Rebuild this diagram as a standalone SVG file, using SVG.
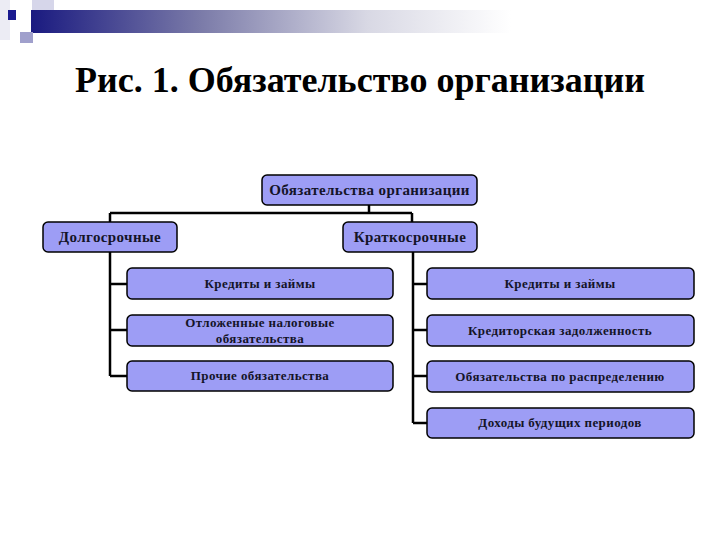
<svg xmlns="http://www.w3.org/2000/svg" width="720" height="540" viewBox="0 0 720 540">
<defs>
<linearGradient id="bar" x1="0" y1="0" x2="1" y2="0">
<stop offset="0" stop-color="#1a1a80"/>
<stop offset="0.35" stop-color="#7a7aa8"/>
<stop offset="0.7" stop-color="#d8d8e4"/>
<stop offset="1" stop-color="#ffffff"/>
</linearGradient>
<style>
.box{fill:#9d9df5;stroke:#000;stroke-width:1.5}
.t{font-family:"Liberation Serif","Times New Roman",serif;font-weight:bold;fill:#141428;text-anchor:middle}
.m{font-size:15px;letter-spacing:0.4px}
.s{font-size:13px;letter-spacing:0.4px}
.l{fill:none;stroke:#000;stroke-width:2.5}
</style>
</defs>
<rect width="720" height="540" fill="#fff"/>
<g id="decor">
<rect x="0" y="0" width="10" height="40" fill="#ececf4"/>
<rect x="32" y="0" width="22" height="20" fill="#d6d6ea"/>
<rect x="31" y="10" width="480" height="23" fill="url(#bar)"/>
<rect x="8" y="10" width="8" height="10" fill="#1a1a90"/>
<rect x="20" y="32" width="13" height="11" fill="#a0a0cc"/>
</g>
<text class="t" x="360" y="92" font-size="36" style="fill:#000">Рис. 1. Обязательство организации</text>
<g id="connectors">
<path class="l" d="M369 205V213M110 213H412M110 213V222M412 213V222"/>
<path class="l" d="M110 252V376M110 284H127M110 330H127M110 376H127"/>
<path class="l" d="M413 252V423M413 284H427M413 330H427M413 376H427M413 423H427"/>
</g>
<g id="root"><rect class="box" x="262" y="175" width="215" height="30" rx="5"/><text class="t m" x="369.5" y="195">Обязательства организации</text></g>
<g id="long"><rect class="box" x="43" y="222" width="134" height="30" rx="5"/><text class="t m" x="110" y="242">Долгосрочные</text></g>
<g id="short"><rect class="box" x="343" y="222" width="134" height="30" rx="5"/><text class="t m" x="410" y="242">Краткосрочные</text></g>
<g id="l1"><rect class="box" x="127" y="268" width="266" height="31" rx="5"/><text class="t s" x="260" y="288">Кредиты и займы</text></g>
<g id="l2"><rect class="box" x="127" y="315" width="266" height="31" rx="5"/><text class="t s" x="260" y="327">Отложенные налоговые</text><text class="t s" x="260" y="343">обязательства</text></g>
<g id="l3"><rect class="box" x="127" y="361" width="266" height="30" rx="5"/><text class="t s" x="260" y="380">Прочие обязательства</text></g>
<g id="r1"><rect class="box" x="427" y="268" width="267" height="31" rx="5"/><text class="t s" x="560" y="288">Кредиты и займы</text></g>
<g id="r2"><rect class="box" x="427" y="315" width="267" height="31" rx="5"/><text class="t s" x="560" y="335">Кредиторская задолженность</text></g>
<g id="r3"><rect class="box" x="427" y="361" width="267" height="31" rx="5"/><text class="t s" x="560" y="381">Обязательства по распределению</text></g>
<g id="r4"><rect class="box" x="427" y="408" width="267" height="30" rx="5"/><text class="t s" x="560" y="427">Доходы будущих периодов</text></g>
</svg>
